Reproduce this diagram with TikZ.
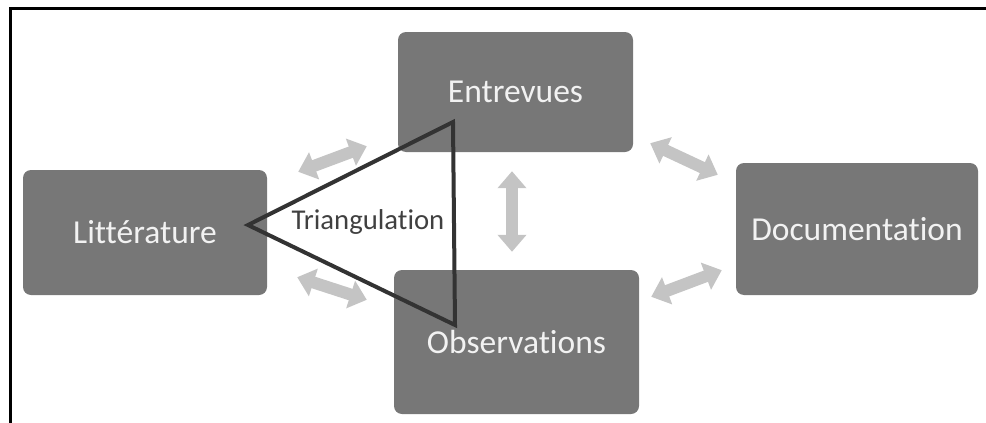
\documentclass[tikz,border=0pt]{standalone}
\usepackage{fontspec}
\setmainfont[Ligatures=NoCommon]{Carlito}
\usepackage{tikz}
\usetikzlibrary{arrows.meta}

\definecolor{boxgray}{HTML}{777777}
\definecolor{arrowgray}{HTML}{C4C4C4}
\definecolor{linegray}{HTML}{333333}
\definecolor{textgray}{HTML}{404040}

\begin{document}
\begin{tikzpicture}[x=1pt,y=-1pt,
    main/.style={fill=boxgray, rounded corners=8pt, inner sep=0pt, text=white!95!black, font=\fontsize{33.5}{36}\selectfont},
    dbl/.style={color=arrowgray, line width=12pt, {Triangle[width=28pt,length=17pt]}-{Triangle[width=28pt,length=17pt]}},
    tri/.style={draw=linegray, line width=4pt, line join=miter}]
            \useasboundingbox (0,0) rectangle (986,423);
            \draw[line width=3pt] (10,423) -- (10,8) -- (986,8);

            \node[main, minimum width=244pt, minimum height=125pt] (0) at (145,232.5) {Littérature};
            \node[main, minimum width=235pt, minimum height=120pt] (1) at (515.5,92) {Entrevues};
            \node[main, minimum width=245pt, minimum height=144pt] (2) at (516.5,342) {Observations};
            \node[main, minimum width=242pt, minimum height=132pt] (3) at (857,229) {Documentation};

            \path[dbl] ([shift={(31,2)}]0.north east) edge ([shift={(-31,-6)}]1.south west)
                       ([shift={(30,-18)}]0.south east) edge ([shift={(-27,30)}]2.north west)
                       ([shift={(-3.5,19)}]1.south) edge ([shift={(-4.5,-18)}]2.north)
                       ([shift={(17,-9)}]1.south east) edge ([shift={(-18,12)}]3.north west)
                       ([shift={(12,27)}]2.north east) edge ([shift={(-14,-25)}]3.south west);

            \coordinate (t0) at (248,225);
            \coordinate (t1) at (453,122);
            \coordinate (t2) at (455,325);
            \draw[tri] (t0) -- (t1) -- (t2) -- cycle;
            \node[text=textgray, font=\fontsize{28.7}{30}\selectfont] (tr) at (368,222) {Triangulation};
          \end{tikzpicture}
\end{document}
